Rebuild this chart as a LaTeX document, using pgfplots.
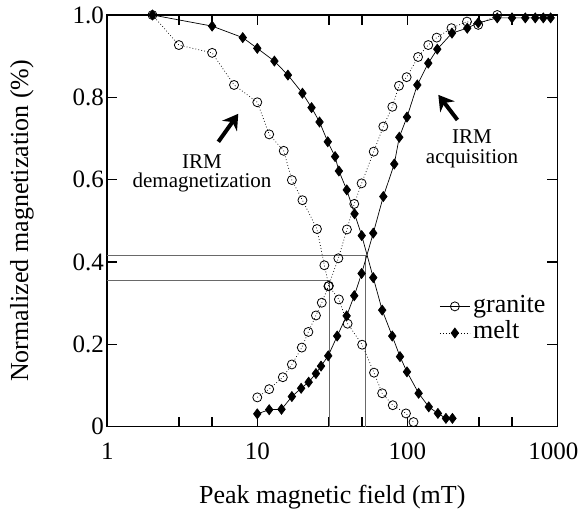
\documentclass[border=0pt]{standalone}
\usepackage{fontspec}
\setmainfont{Liberation Serif}
\usepackage{pgfplots}
\pgfplotsset{compat=1.18}
\usetikzlibrary{arrows.meta}
\definecolor{refgray}{RGB}{105,105,105}

% granite, IRM demagnetization
\pgfplotstableread{
x y
2 1.0
3 0.927
5 0.908
7 0.830
10 0.788
12 0.710
15 0.670
17 0.599
20 0.550
25 0.480
28 0.392
30 0.342
35 0.309
40 0.250
50 0.199
60 0.131
68 0.081
80 0.052
98 0.032
110 0.011
}\gradem
% melt, IRM demagnetization
\pgfplotstableread{
x y
2 1.0
5 0.973
8 0.945
10 0.919
13 0.888
16 0.854
20 0.810
23 0.775
26 0.740
29.5 0.692
33 0.656
35 0.621
39.5 0.575
44.5 0.517
49.7 0.464
59.3 0.362
68 0.283
79.4 0.220
89.4 0.170
99.5 0.133
119 0.081
139 0.048
160 0.032
181 0.020
200 0.020
}\meltdem
% granite, IRM acquisition
\pgfplotstableread{
x y
10 0.071
12 0.091
14.8 0.120
17 0.151
19.8 0.192
21.9 0.230
24.6 0.270
26.9 0.301
29.8 0.341
34.7 0.409
39.6 0.479
44.3 0.541
49.6 0.591
59.7 0.668
69.2 0.729
79.5 0.777
88 0.828
99 0.849
118 0.898
138 0.927
157 0.945
197 0.968
250 0.984
297 0.976
398 1.0
}\graacq
% melt, IRM acquisition
\pgfplotstableread{
x y
10 0.031
12 0.041
14.5 0.042
17 0.073
19.6 0.093
22 0.108
24.6 0.129
26.6 0.147
29.7 0.172
34.1 0.220
39.4 0.269
44.3 0.318
49.6 0.372
59.3 0.470
69.2 0.559
81.9 0.638
88.4 0.703
99.5 0.752
116.6 0.830
138 0.883
158.5 0.917
198.6 0.956
251 0.968
297 0.981
398 0.993
499 0.993
612 0.993
713 0.993
807 0.993
903 0.993
}\meltacq

\begin{document}
\begin{tikzpicture}
\begin{axis}[
  name=ax,
  scale only axis,
  width=450bp, height=411.6bp,
  xmode=log, xmin=1, xmax=1000, ymin=0, ymax=1,
  xtick={1,3,5,10,30,50,100,300,500,1000},
  xticklabels={1,,,10,,,100,,,\hspace{-8bp}1000},
  minor xtick={},
  ytick={0,0.2,0.4,0.6,0.8,1},
  yticklabels={0,0.2,0.4,0.6,0.8,1.0},
  tick align=inside,
  major tick length=10bp,
  every tick/.style={black, line width=1.3bp},
  axis line style={line width=1.6bp},
  /pgf/number format/assume math mode=true,
  ticklabel style={font=\fontsize{25bp}{28bp}\selectfont},
  xticklabel style={yshift=-13bp},
  label style={font=\fontsize{26bp}{30bp}\selectfont},
  xlabel={Peak magnetic field (mT)},
  ylabel={Normalized magnetization (\%)},
  xlabel style={at={(axis description cs:0.5,-0.172)}, anchor=center},
  ylabel style={at={(axis description cs:-0.19,0.5)}, anchor=center},
  clip=false,
  legend style={at={(axis cs:163.5,0.325)}, anchor=north west, draw=none,
    fill=none, inner sep=0pt, font=\fontsize{26bp}{28bp}\selectfont,
    nodes={inner sep=0bp, text height=19bp, text depth=7.7bp},
    column sep=3bp, row sep=0bp},
  legend cell align=left,
  legend image code/.code={
    \draw[mark repeat=2, mark phase=2, #1]
      plot coordinates {(0bp,0bp) (15bp,0bp) (30bp,0bp)};},
]
  % reference lines at the crossings
  \addplot[refgray, line width=1.1bp, forget plot]
    coordinates {(1,0.415) (52.8,0.415) (52.8,0)};
  \addplot[refgray, line width=1.1bp, forget plot]
    coordinates {(1,0.356) (30.5,0.356) (30.5,0)};

  \addplot[black, line width=0.7bp, dash pattern=on 0.8bp off 2.2bp,
    mark=o, mark size=4.5bp, mark options={solid, fill=white, line width=0.8bp},
    forget plot] table {\gradem};
  \addplot[black, line width=0.7bp, dash pattern=on 0.8bp off 2.2bp,
    mark=o, mark size=4.5bp, mark options={solid, fill=white, line width=0.8bp},
    forget plot] table {\graacq};
  \addplot[black, line width=0.7bp, mark=diamond*, mark size=5bp,
    forget plot] table {\meltdem};
  \addplot[black, line width=0.7bp, mark=diamond*, mark size=5bp,
    forget plot] table {\meltacq};

  \addlegendimage{black, line width=0.7bp, mark=o, mark size=4.5bp,
    mark options={fill=white, line width=0.8bp}}
  \addlegendentry{granite}
  \addlegendimage{black, line width=0.7bp, dash pattern=on 0.8bp off 2.2bp,
    mark=diamond*, mark size=5bp, mark options={solid}}
  \addlegendentry{melt}

  \node[font=\fontsize{21bp}{24bp}\selectfont, anchor=base]
    at (axis cs:4.28,0.628) {IRM};
  \node[font=\fontsize{21bp}{24bp}\selectfont, anchor=base]
    at (axis cs:4.28,0.580) {demagnetization};
  \node[font=\fontsize{21bp}{24bp}\selectfont, anchor=base]
    at (axis cs:270,0.688) {IRM};
  \node[font=\fontsize{21bp}{24bp}\selectfont, anchor=base]
    at (axis cs:270,0.640) {acquisition};

  \draw[line width=4bp, -{Stealth[length=15bp, width=18bp]}]
    (axis cs:5.5,0.692) -- (axis cs:7.47,0.760);
  \draw[line width=4bp, -{Stealth[length=15bp, width=18bp]}]
    (axis cs:216,0.745) -- (axis cs:161,0.806);
\end{axis}
\pgfresetboundingbox
\path (ax.south west) ++(-107.3bp,-83.4bp) rectangle ++(579bp,510bp);
\end{tikzpicture}
\end{document}
